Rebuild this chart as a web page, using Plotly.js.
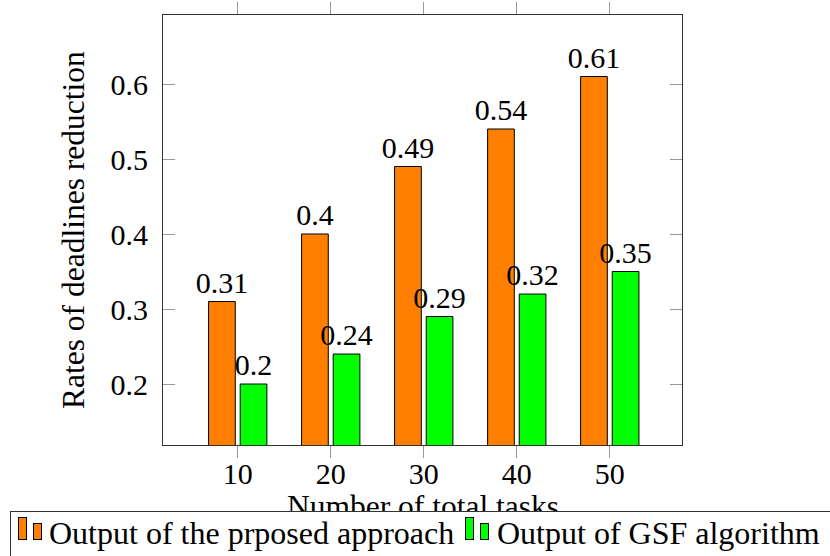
<!DOCTYPE html>
<html>
<head>
<meta charset="utf-8">
<script src="https://cdn.plot.ly/plotly-3.0.1.min.js"></script>
<style>
  html, body { margin: 0; padding: 0; background: #fff; }
  #chart { width: 830px; height: 556px; }
</style>
</head>
<body>
<div id="chart"></div>
<script>
// Number of total tasks on the x axis
const tasks = [10, 20, 30, 40, 50];
// Rates of deadlines reduction for each method
const proposed = [0.31, 0.40, 0.49, 0.54, 0.61];
const gsf = [0.20, 0.24, 0.29, 0.32, 0.35];
const seriesNames = ['Output of the prposed approach', 'Output of GSF algorithm'];
const yTicks = [0.2, 0.3, 0.4, 0.5, 0.6];
const xTitle = 'Number of total tasks';
const yTitle = 'Rates of deadlines reduction';

const FONT = '"Liberation Serif", "Times New Roman", serif';
const ORANGE = '#ff7f00';
const GREEN = '#00ff00';

// plot-area geometry (pixels) used to place the hand-built legend
const M = { l: 163, r: 148, t: 15, b: 111 };
const W = 830 - M.l - M.r, H = 556 - M.t - M.b;
const px2x = p => (p - M.l) / W;
const py2y = p => (M.t + H - p) / H;

const barW = 2.87;
function barTrace(vals, color, offset, name) {
  return {
    type: 'bar', name: name, x: tasks, y: vals,
    width: tasks.map(() => barW), offset: offset,
    marker: { color: color, line: { color: '#000', width: 1 } },
    text: vals.map(v => String(v)), textposition: 'outside',
    constraintext: 'none', cliponaxis: false,
    textfont: { family: FONT, size: 30, color: '#000' },
    hoverinfo: 'x+y', showlegend: false
  };
}

const data = [
  barTrace(proposed, ORANGE, -3.13, seriesNames[0]),
  barTrace(gsf, GREEN, 0.27, seriesNames[1])
];

// legend icon: two small bars, like the pgfplots ybar legend image
function icon(x0, color) {
  return [
    { x: x0, top: 517, w: 9, bottom: 540 },
    { x: x0 + 15, top: 523, w: 9, bottom: 540 }
  ].map(b => ({
    xref: 'paper', yref: 'paper', showarrow: false,
    x: px2x(b.x), y: py2y(b.top), xanchor: 'left', yanchor: 'top',
    text: ' ', width: b.w - 2, height: b.bottom - b.top - 2, borderpad: 0,
    bgcolor: color, bordercolor: '#000', borderwidth: 1
  }));
}

const annotations = [
  { xref: 'paper', yref: 'paper', showarrow: false, x: px2x(423), y: py2y(487),
    xanchor: 'center', yanchor: 'top', text: xTitle,
    font: { family: FONT, size: 31.5, color: '#000' } },
  // legend frame (covers the lower part of the x title)
  { xref: 'paper', yref: 'paper', showarrow: false, x: px2x(10), y: py2y(511),
    xanchor: 'left', yanchor: 'top', text: ' ', width: 1200, height: 120,
    borderpad: 0, bgcolor: '#fff', bordercolor: '#333', borderwidth: 1 },
  ...icon(18, ORANGE),
  ...icon(465, GREEN),
  { xref: 'paper', yref: 'paper', showarrow: false, x: px2x(47), y: py2y(513),
    xanchor: 'left', yanchor: 'top', text: seriesNames[0],
    font: { family: FONT, size: 32, color: '#000' } },
  { xref: 'paper', yref: 'paper', showarrow: false, x: px2x(495), y: py2y(513),
    xanchor: 'left', yanchor: 'top', text: seriesNames[1],
    font: { family: FONT, size: 32, color: '#000' } },
  { xref: 'paper', yref: 'paper', showarrow: false, x: px2x(73), y: py2y(230),
    xanchor: 'center', yanchor: 'middle', textangle: -90, text: yTitle,
    font: { family: FONT, size: 31.5, color: '#000' } }
];

const layout = {
  width: 830, height: 556,
  margin: M,
  paper_bgcolor: '#fff', plot_bgcolor: '#fff',
  barmode: 'overlay',
  showlegend: false,
  font: { family: FONT, size: 30, color: '#000' },
  xaxis: {
    range: [1.97, 57.77], tickvals: tasks, ticktext: tasks.map(String),
    ticks: 'outside', ticklen: 12, tickcolor: '#999', tickwidth: 1,
    showline: true, linecolor: '#333', linewidth: 1, mirror: 'ticks',
    showgrid: false, zeroline: false, ticklabelstandoff: -10,
    tickfont: { family: FONT, size: 30, color: '#000' }
  },
  yaxis: {
    range: [0.1187, 0.692], tickvals: yTicks, ticktext: yTicks.map(String),
    ticks: 'inside', ticklen: 12, tickcolor: '#999', tickwidth: 1,
    showline: true, linecolor: '#333', linewidth: 1, mirror: 'ticks',
    showgrid: false, zeroline: false, ticklabelstandoff: 8,
    tickfont: { family: FONT, size: 30, color: '#000' }
  },
  annotations: annotations
};

Plotly.newPlot('chart', data, layout, { displayModeBar: false, staticPlot: true });
</script>
</body>
</html>
